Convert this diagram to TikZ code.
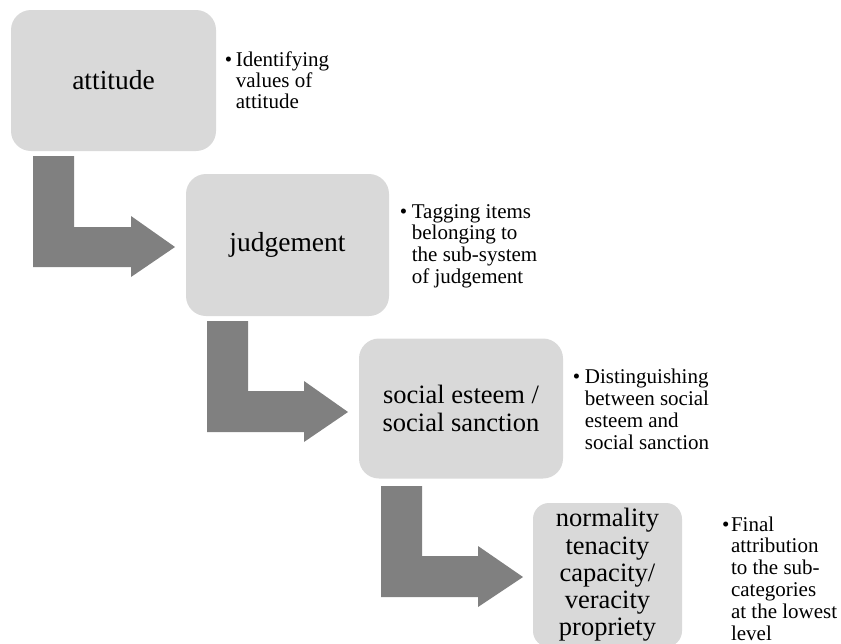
\documentclass[tikz,border=0pt]{standalone}
\usepackage{fontspec}
\setmainfont{Liberation Serif}
\definecolor{boxgray}{HTML}{D9D9D9}
\definecolor{arrowgray}{HTML}{808080}
\begin{document}
\begin{tikzpicture}[x=1pt,y=-1pt,
  stage/.style={fill=boxgray, draw=none, rounded corners=20pt, align=center,
    font=\fontsize{27.5}{27}\selectfont, inner sep=0pt},
  bendarrow/.style={fill=arrowgray, draw=none},
  note/.style={anchor=base west, inner sep=0pt, font=\fontsize{21}{21.5}\selectfont}]
\useasboundingbox (0,0) rectangle (841,643);
\clip (0,0) rectangle (841,643);

% stage boxes
\node[stage, minimum width=205pt, minimum height=141pt] (s1) at (113.5,80.5) {attitude};
\node[stage, minimum width=203pt, minimum height=142pt] (s2) at (287.5,245) {judgement};
\node[stage, font=\fontsize{26.5}{27.5}\selectfont, minimum width=204pt, minimum height=140pt] (s3) at (461,408.5)
  {social esteem /\\social sanction};
\node[stage, font=\fontsize{26.5}{27.3}\selectfont, rounded corners=16pt, minimum width=149pt, minimum height=144pt] (s4) at (607.5,575)
  {normality\\tenacity\\capacity/\\veracity\\propriety};

% bent arrows
\fill[bendarrow] (33,156) -- (74,156) -- (74,227) -- (131,227) -- (131,216) -- (175,247)
  -- (131,277) -- (131,267) -- (33,267) -- cycle;
\fill[bendarrow] (207,321) -- (248,321) -- (248,391) -- (304,391) -- (304,381) -- (348,412)
  -- (304,442) -- (304,432) -- (207,432) -- cycle;
\fill[bendarrow] (381,486) -- (422,486) -- (422,556) -- (478,556) -- (478,546) -- (523,577)
  -- (478,607) -- (478,597) -- (381,597) -- cycle;

% notes
\node[note, font=\fontsize{21}{21}\selectfont] (n1) at (224.7,66)
  {\begin{tabular}[t]{@{}l@{\hspace{3.6pt}}l@{}}•&Identifying\\&values of\\&attitude\end{tabular}};
\node[note, font=\fontsize{21}{21.7}\selectfont] (n2) at (399.7,218)
  {\begin{tabular}[t]{@{}l@{\hspace{4.6pt}}l@{}}•&Tagging items\\&belonging to\\&the sub-system\\&of judgement\end{tabular}};
\node[note, font=\fontsize{21}{22}\selectfont] (n3) at (572.7,383)
  {\begin{tabular}[t]{@{}l@{\hspace{4.6pt}}l@{}}•&Distinguishing\\&between social\\&esteem and\\&social sanction\end{tabular}};
\node[note, font=\fontsize{21}{21.8}\selectfont] (n4) at (722,531)
  {\begin{tabular}[t]{@{}l@{\hspace{1.5pt}}l@{}}•&Final\\&attribution\\&to the sub-\\&categories\\&at the lowest\\&level\end{tabular}};
\end{tikzpicture}
\end{document}
